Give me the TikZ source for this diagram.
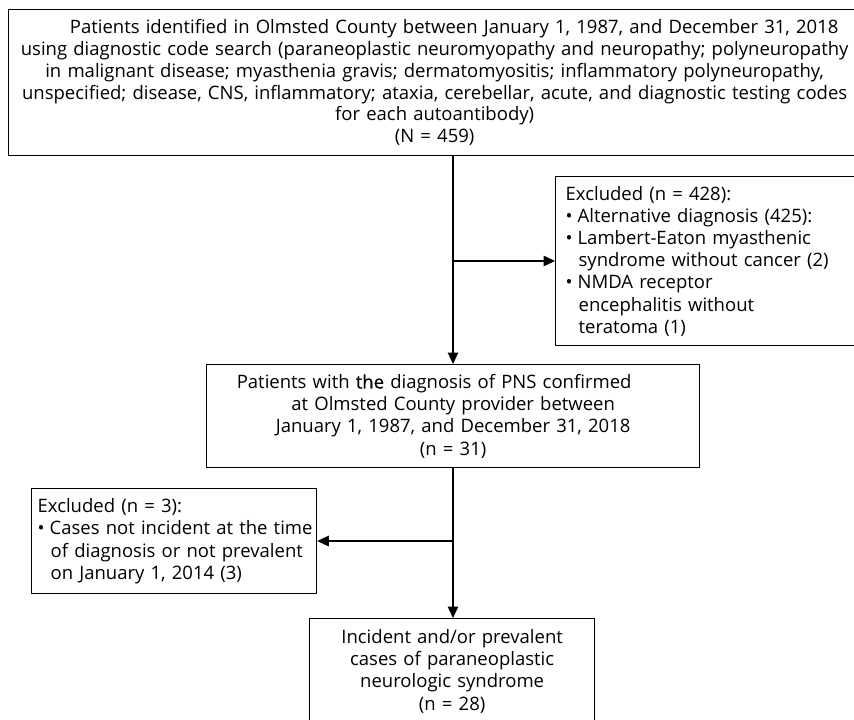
\documentclass[tikz,border=0pt]{standalone}
\usepackage{fontspec}
\setmainfont{Open Sans}
\usetikzlibrary{arrows.meta}
\newcommand{\bul}{\makebox[12pt][l]{\textbullet}}
\newcommand{\hang}{\hspace*{13pt}}
\tikzset{
  box/.style={draw, line width=1.3pt, inner sep=0pt,
              font=\fontsize{18.5}{22.2}\selectfont},
  conn/.style={line width=1.4pt, -{Triangle[length=11.5pt,width=10.5pt]}},
  plain/.style={line width=1.4pt}
}
\begin{document}
\begin{tikzpicture}[x=1pt,y=-1pt]
\useasboundingbox (0,0) rectangle (854,720);
\clip (0,0) rectangle (854,720);
% top box
\node[box, anchor=north west, minimum width=852pt, minimum height=146pt,
      text width=846pt, align=center, font=\fontsize{18.5}{21.8}\selectfont] (top) at (8,9)
  {\hspace*{39pt}Patients identified in Olmsted County between January 1, 1987, and December 31, 2018\\
   using diagnostic code search (paraneoplastic neuromyopathy and neuropathy; polyneuropathy\\
   in malignant disease; myasthenia gravis; dermatomyositis; inflammatory polyneuropathy,\\
   unspecified; disease, CNS, inflammatory; ataxia, cerebellar, acute, and diagnostic testing codes\\
   for each autoantibody)\\
   (N = 459)};
% excluded 1
\node[box, anchor=north west, minimum width=320pt, minimum height=169pt,
      text width=300pt, align=left] (ex1) at (555,176)
  {\mbox{Excluded (n = 428):}\\
   \mbox{\bul Alternative diagnosis (425):}\\
   \mbox{\bul Lambert-Eaton myasthenic}\\
   \mbox{\hang syndrome without cancer (2)}\\
   \mbox{\bul NMDA receptor}\\
   \mbox{\hang encephalitis without}\\
   \mbox{\hang teratoma (1)}};
% box 2
\node[box, anchor=north west, minimum width=493pt, minimum height=103pt,
      text width=480pt, align=center] (b2) at (206,364)
  {\hspace*{-38pt}Patients with {\addfontfeature{FakeBold=0.6}the} diagnosis of PNS confirmed\\
   at Olmsted County provider between\\
   January 1, 1987, and December 31, 2018\\
   (n = 31)};
% excluded 3
\node[box, anchor=north west, minimum width=285pt, minimum height=105pt,
      text width=273pt, align=left] (ex3) at (31,488)
  {\mbox{Excluded (n = 3):}\\
   \mbox{\bul Cases not incident at the time}\\
   \mbox{\hang of diagnosis or not prevalent}\\
   \mbox{\hang on January 1, 2014 (3)}};
% box 4
\node[box, anchor=north west, minimum width=285pt, minimum height=105pt,
      text width=275pt, align=center] (b4) at (309,618)
  {Incident and/or prevalent\\
   cases of paraneoplastic\\
   neurologic syndrome\\
   (n = 28)};
% connectors
\coordinate (spine) at (453,0);
\coordinate (j1) at (453,261);
\coordinate (j2) at (453,541);
\draw[plain] (top.south -| spine) -- (j1);
\draw[conn] (j1) -- (ex1.west |- j1);
\draw[conn] (j1) -- (b2.north -| spine);
\draw[plain] (b2.south -| spine) -- (j2);
\draw[conn] (j2) -- (ex3.east |- j2);
\draw[conn] (j2) -- (b4.north -| spine);
\end{tikzpicture}
\end{document}
